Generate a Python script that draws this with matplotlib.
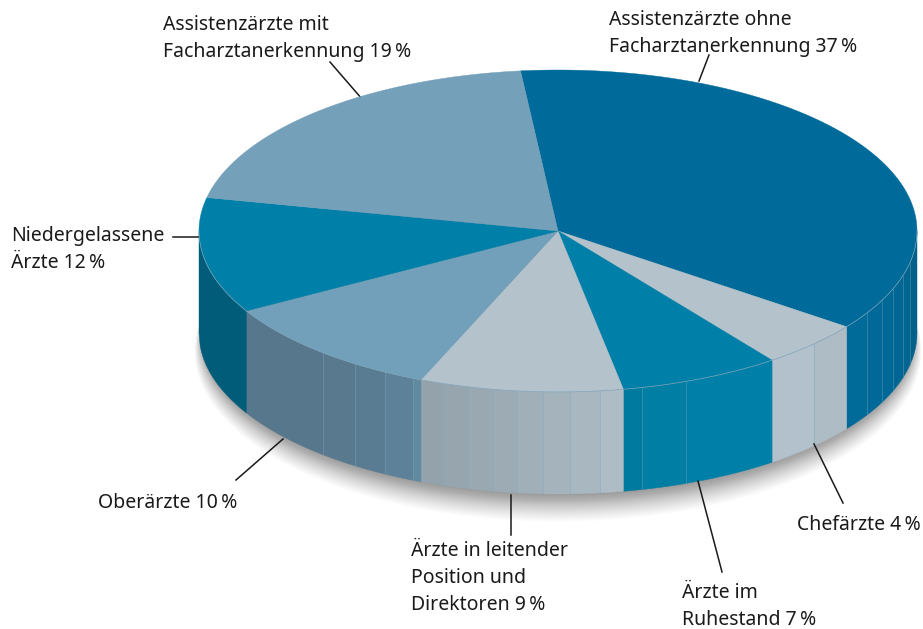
import matplotlib
matplotlib.use('Agg')
import matplotlib.pyplot as plt
import numpy as np
from matplotlib.patches import Polygon

plt.rcParams['font.family'] = ['Noto Sans', 'DejaVu Sans']

# clockwise from the top, as drawn
names = ['Assistenzärzte ohne\nFacharztanerkennung', 'Chefärzte', 'Ärzte im\nRuhestand',
         'Ärzte in leitender\nPosition und\nDirektoren', 'Oberärzte', 'Niedergelassene\nÄrzte',
         'Assistenzärzte mit\nFacharztanerkennung']
label_pct = [37, 4, 7, 9, 10, 12, 19]
# the printed numbers add up to 98, these are the slice sizes as drawn
slice_share = [36.8, 4.7, 7.25, 9.15, 10.5, 11.6, 20.0]

top_colors = ['#006b9a', '#b4c2cc', '#0080a8', '#b4c2cc', '#72a0ba', '#0080a8', '#74a0ba']

# facets of the wall: inner edges (pixel x) and one colour per facet, left to right
facet_x = [[867, 882, 893, 903, 910],
           [814],
           [642, 686],
           [443, 468, 493, 517, 543, 570, 600],
           [323, 355, 385, 413],
           [],
           []]
facet_colors = [['#006a98', '#00699a', '#006896', '#006794', '#006590', '#00608a'],
                ['#b2c1cb', '#aebcc6'],
                ['#007a9e', '#007ea3', '#0080a8'],
                ['#93a2ab', '#96a5ae', '#9aa8b2', '#9dabb5', '#a1afb9', '#a5b3bd', '#a9b7c1', '#aebcc6'],
                ['#56778c', '#59798e', '#5a7c92', '#5d8198', '#618a9f'],
                ['#005c78'],
                ['#005c78']]

cx, cy = 558, 231
rx, ry = 359, 161
depth = 102
start = 96

fig = plt.figure(figsize=(9.23, 6.29), dpi=100)
ax = fig.add_axes([0, 0, 1, 1])
ax.set_xlim(0, 923)
ax.set_ylim(629, 0)
ax.axis('off')


def rim(t_deg):
    t = np.radians(t_deg)
    return cx + rx * np.cos(t), cy - ry * np.sin(t)


def rim_y(x):
    u = np.clip((np.asarray(x, dtype=float) - cx) / rx, -1, 1)
    return cy + ry * np.sqrt(1 - u ** 2)


# soft shadow under the pie
t = np.linspace(0, 2 * np.pi, 400)
n_shadow = 70
for i in range(n_shadow):
    grow = 34 * ((n_shadow - i) / n_shadow) ** 1.7
    xs = cx + (rx - 4 + grow * 0.25) * np.cos(t)
    ys = cy + depth + grow * 0.55 + (ry - 1 + grow * 0.3) * np.sin(t)
    ax.add_patch(Polygon(np.column_stack([xs, ys]), facecolor='#303030', edgecolor='none',
                         alpha=0.009, zorder=1))

# wall
angles = start - np.cumsum([0] + slice_share) * 3.6
for i in range(len(names)):
    a0, a1 = angles[i], angles[i + 1]
    x0, _ = rim(a0)
    x1, _ = rim(a1)
    if a0 > 0:
        x0 = cx + rx
    if a1 < -180 and a0 < -180:
        continue
    if a1 < -180:
        x1 = cx - rx
    if a0 > 0 and a1 > 0:
        continue
    edges = sorted([x0, x1] + facet_x[i])
    for j in range(len(edges) - 1):
        xs = np.linspace(edges[j], edges[j + 1], 40)
        ys = rim_y(xs)
        pts = np.vstack([np.column_stack([xs, ys]), np.column_stack([xs[::-1], ys[::-1] + depth])])
        color = facet_colors[i][j]
        ax.add_patch(Polygon(pts, facecolor=color, edgecolor=color, lw=0.3, zorder=2))
    for x in facet_x[i]:
        ax.plot([x, x], [rim_y(x), rim_y(x) + depth], color='#7fa6bb', lw=0.4, alpha=0.7, zorder=3)

# top
for i in range(len(names)):
    a = np.linspace(angles[i], angles[i + 1], 120)
    xs, ys = rim(a)
    pts = np.vstack([[cx, cy], np.column_stack([xs, ys])])
    ax.add_patch(Polygon(pts, facecolor=top_colors[i], edgecolor=top_colors[i], lw=0.3, zorder=4))

a = np.linspace(-180, 0, 300)
xs, ys = rim(a)
ax.plot(xs, ys, color='#7fa6bb', lw=0.5, zorder=5)

# labels
label_pos = [(609, 25), (797, 530), (682, 598), (411, 556), (98, 508), (11, 241), (163, 30)]
for name, pct, pos in zip(names, label_pct, label_pos):
    lines = (name + ' ' + str(pct) + '\u2009%').split('\n')
    for k, line in enumerate(lines):
        ax.text(pos[0], pos[1] + k * 27, line, fontsize=14.0, color='#1a1a1a', ha='left',
                va='baseline', zorder=6)

leaders = [((709, 55), (699, 81)), ((814, 444), (843, 503)), ((698, 481), (722, 572)),
           ((511, 495), (511, 535)), ((236, 480), (283, 439)), ((173, 237), (199, 237)),
           ((330, 62), (362, 99))]
for p, q in leaders:
    ax.plot([p[0], q[0]], [p[1], q[1]], color='#1a1a1a', lw=1.1, zorder=3.5)

fig.savefig('out.png', dpi=100)
